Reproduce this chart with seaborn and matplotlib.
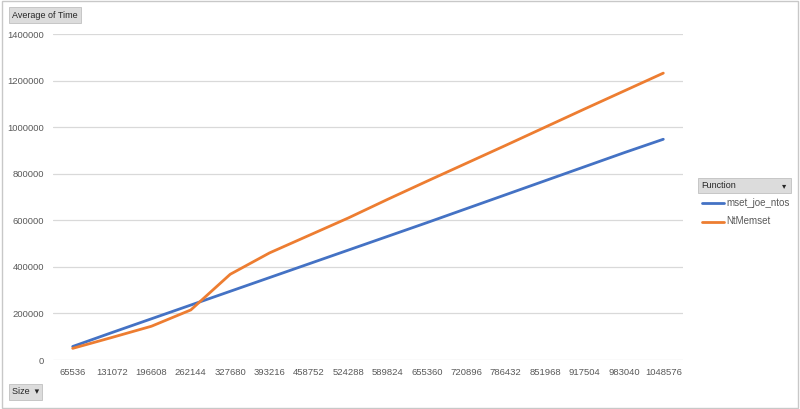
import pandas as pd
import matplotlib.pyplot as plt
import seaborn as sns
from matplotlib.patches import Rectangle

# pivot data
sizes = ['65536', '131072', '196608', '262144', '327680', '393216', '458752', '524288',
         '589824', '655360', '720896', '786432', '851968', '917504', '983040', '1048576']
mset_joe_ntos = [58000, 118000, 177000, 236000, 295000, 354000, 413000, 472000,
                 531000, 590000, 650000, 710000, 770000, 830000, 890000, 948000]
nt_memset = [50000, 97000, 145000, 215000, 368000, 460000, 535000, 610000,
             690000, 768000, 845000, 922000, 1000000, 1078000, 1155000, 1232000]
functions = ['mset_joe_ntos', 'NtMemset']
colors = ['#4472C4', '#ED7D31']

df = pd.DataFrame({
    'Size': sizes * 2,
    'Time': mset_joe_ntos + nt_memset,
    'Function': [functions[0]] * len(sizes) + [functions[1]] * len(sizes),
})

sns.set_style('white')
plt.rcParams['font.family'] = ['Liberation Sans', 'DejaVu Sans']

fig = plt.figure(figsize=(8, 4.09), dpi=100)
ax = fig.add_axes([53 / 800, 1 - 360 / 409, 630 / 800, 326 / 409])

sns.lineplot(data=df, x='Size', y='Time', hue='Function', palette=colors,
             linewidth=2.0, ax=ax, legend=False, sort=False)

ax.set_xlim(-0.5, len(sizes) - 0.5)
ax.set_ylim(0, 1400000)
ax.set_yticks(range(0, 1400001, 200000))
ax.set_yticklabels([str(v) for v in range(0, 1400001, 200000)])
ax.grid(axis='y', color='#d9d9d9', linewidth=0.9)
ax.set_axisbelow(True)
for s in ax.spines.values():
    s.set_visible(False)
ax.tick_params(axis='both', length=0, labelsize=6.8, labelcolor='#595959')
ax.tick_params(axis='y', pad=6.5)
ax.tick_params(axis='x', pad=6)
ax.set_xlabel('')
ax.set_ylabel('')

# outer frame
fig.patches.append(Rectangle((0.002, 0.003), 0.996, 0.994, transform=fig.transFigure,
                             fill=False, edgecolor='#c8c8c8', linewidth=1))

btn = dict(boxstyle='square,pad=0.35', facecolor='#dcdcdc', edgecolor='#c0c0c0', linewidth=0.6)
fig.text(12 / 800, 1 - 15 / 409, 'Average of Time', fontsize=6.5, color='#262626',
         va='center', ha='left', bbox=btn)
fig.text(12 / 800, 1 - 392 / 409, 'Size  \u25be', fontsize=6.5, color='#262626',
         va='center', ha='left', bbox=btn)

# legend header button
fig.patches.append(Rectangle((698 / 800, 1 - 193 / 409), 93 / 800, 15 / 409,
                             transform=fig.transFigure, facecolor='#dcdcdc',
                             edgecolor='#c0c0c0', linewidth=0.6))
fig.text(701 / 800, 1 - 185.5 / 409, 'Function', fontsize=6.5, color='#262626',
         va='center', ha='left')
fig.text(786 / 800, 1 - 185.5 / 409, '\u25be', fontsize=6, color='#262626',
         va='center', ha='right', family='DejaVu Sans')

for i, (name, c) in enumerate(zip(functions, colors)):
    y = 1 - (203 + i * 18.5) / 409
    fig.add_artist(plt.Line2D([702 / 800, 724 / 800], [y, y], color=c, linewidth=2.0,
                              transform=fig.transFigure))
    fig.text(726 / 800, y, name, fontsize=7, color='#595959', va='center', ha='left')

fig.savefig('out.png', dpi=100)
